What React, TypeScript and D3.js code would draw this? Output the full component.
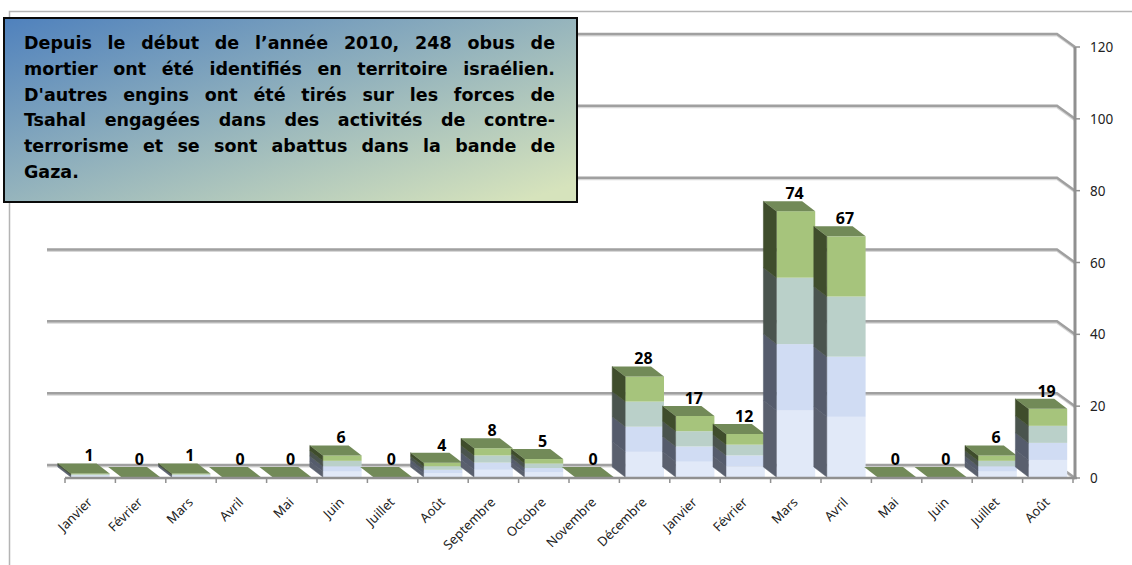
import * as d3 from 'd3';
import { useEffect, useRef } from 'react';

const months = ['Janvier', 'Février', 'Mars', 'Avril', 'Mai', 'Juin', 'Juillet', 'Août', 'Septembre', 'Octobre', 'Novembre', 'Décembre', 'Janvier', 'Février', 'Mars', 'Avril', 'Mai', 'Juin', 'Juillet', 'Août'];
const totals = [1, 0, 1, 0, 0, 6, 0, 4, 8, 5, 0, 28, 17, 12, 74, 67, 0, 0, 6, 19];
// stack segments, bottom to top
const paleSeries = [0.25, 0, 0.25, 0, 0, 1.5, 0, 1, 2, 1.25, 0, 7, 4.25, 3, 18.5, 16.75, 0, 0, 1.5, 4.75];
const blueSeries = [0.25, 0, 0.25, 0, 0, 1.5, 0, 1, 2, 1.25, 0, 7, 4.25, 3, 18.5, 16.75, 0, 0, 1.5, 4.75];
const sageSeries = [0.25, 0, 0.25, 0, 0, 1.5, 0, 1, 2, 1.25, 0, 7, 4.25, 3, 18.5, 16.75, 0, 0, 1.5, 4.75];
const greenSeries = [0.25, 0, 0.25, 0, 0, 1.5, 0, 1, 2, 1.25, 0, 7, 4.25, 3, 18.5, 16.75, 0, 0, 1.5, 4.75];
const yTicks = [0, 20, 40, 60, 80, 100, 120];
const noteLines = [
    'Depuis le début de l’année 2010, 248 obus de',
    'mortier ont été identifiés en territoire israélien.',
    "D'autres engins ont été tirés sur les forces de",
    'Tsahal engagées dans des activités de contre-',
    'terrorisme et se sont abattus dans la bande de',
    'Gaza.',
];

const App = () => {
    const ref = useRef<SVGSVGElement | null>(null);

    useEffect(() => {
        const svg = d3.select(ref.current);
        svg.selectAll('*').remove();

        const x = d3.scaleBand<number>()
            .domain(d3.range(months.length))
            .range([65, 1073])
            .paddingInner(0.23)
            .paddingOuter(0.115);
        const y = d3.scaleLinear().domain([0, 120]).range([478, 47]);
        const step = x.step();
        const left = (i: number) => x(i) as number;
        const tickX = (i: number) => left(i) - step * 0.115;

        const defs = svg.append('defs');
        const grad = defs.append('linearGradient')
            .attr('id', 'noteFill')
            .attr('x1', '0%').attr('y1', '0%')
            .attr('x2', '100%').attr('y2', '100%');
        grad.append('stop').attr('offset', '0%').attr('stop-color', '#4f81bd');
        grad.append('stop').attr('offset', '95%').attr('stop-color', '#d6e3bc');

        // outer frame
        svg.append('path')
            .attr('d', 'M9.5,565V11.5H1132')
            .attr('fill', 'none')
            .attr('stroke', '#b4b4b4')
            .attr('stroke-width', 1.5);

        // back grid lines with the bend down to the axis
        const gridPath = (v: number) => {
            const p = d3.path();
            p.moveTo(47, y(v) - 13);
            p.lineTo(1057, y(v) - 13);
            p.lineTo(1075, y(v));
            return p.toString();
        };
        svg.selectAll('.grid-shadow')
            .data(yTicks)
            .enter()
            .append('path')
            .attr('d', gridPath)
            .attr('transform', 'translate(0,1.5)')
            .attr('fill', 'none')
            .attr('stroke', '#d8d8d8')
            .attr('stroke-width', 2);
        svg.selectAll('.grid-line')
            .data(yTicks)
            .enter()
            .append('path')
            .attr('d', gridPath)
            .attr('fill', 'none')
            .attr('stroke', '#a0a0a0')
            .attr('stroke-width', 2.5);

        // bars
        const dx = 13;
        const dy = 10;
        const base = y(0) - 1;
        const stack = [
            { values: paleSeries, front: '#e1e9f8', side: '#5a606e' },
            { values: blueSeries, front: '#d0dcf3', side: '#555c6c' },
            { values: sageSeries, front: '#bad0c9', side: '#4a544e' },
            { values: greenSeries, front: '#a6c47c', side: '#3f4d2c' },
        ];
        const bars = svg.selectAll('.bar')
            .data(months.map((_, i) => i))
            .enter()
            .append('g');
        bars.each(function (i) {
            const g = d3.select(this);
            const x0 = left(i);
            const w = x.bandwidth();
            let sum = 0;
            stack.forEach((s) => {
                const v = s.values[i];
                const yb = base + y(sum) - y(0);
                const yt = base + y(sum + v) - y(0);
                sum += v;
                if (v === 0) return;
                g.append('rect')
                    .attr('x', x0).attr('y', yt)
                    .attr('width', w).attr('height', yb - yt)
                    .attr('fill', s.front);
                g.append('polygon')
                    .attr('points', [[x0 - dx, yb - dy], [x0, yb], [x0, yt], [x0 - dx, yt - dy]].join(' '))
                    .attr('fill', s.side)
                    .attr('stroke', s.side)
                    .attr('stroke-width', 0.5);
            });
            const top = base + y(sum) - y(0);
            g.append('polygon')
                .attr('points', [[x0 - dx, top - dy], [x0 + w - dx, top - dy], [x0 + w, top], [x0, top]].join(' '))
                .attr('fill', '#728a58');
        });

        // x axis
        svg.append('line')
            .attr('x1', 65).attr('x2', 1077)
            .attr('y1', y(0)).attr('y2', y(0))
            .attr('stroke', '#909090')
            .attr('stroke-width', 2.5);
        svg.selectAll('.x-tick')
            .data(d3.range(months.length + 1))
            .enter()
            .append('line')
            .attr('x1', (i) => tickX(0) + i * step)
            .attr('x2', (i) => tickX(0) + i * step)
            .attr('y1', y(0))
            .attr('y2', y(0) + 5)
            .attr('stroke', '#909090')
            .attr('stroke-width', 1.5);
        svg.selectAll('.x-label')
            .data(months)
            .enter()
            .append('text')
            .attr('transform', (_, i) => `translate(${tickX(i) + 28},503) rotate(-45)`)
            .attr('text-anchor', 'end')
            .style('font-family', '"Noto Sans", sans-serif')
            .style('font-size', '13px')
            .style('fill', '#222')
            .text((d) => d);

        // y axis
        svg.append('line')
            .attr('x1', 1075).attr('x2', 1075)
            .attr('y1', y(120)).attr('y2', y(0))
            .attr('stroke', '#909090')
            .attr('stroke-width', 3);
        svg.selectAll('.y-tick')
            .data(yTicks)
            .enter()
            .append('line')
            .attr('x1', 1075).attr('x2', 1080)
            .attr('y1', (d) => y(d)).attr('y2', (d) => y(d))
            .attr('stroke', '#909090')
            .attr('stroke-width', 1.5);
        svg.selectAll('.y-label')
            .data(yTicks)
            .enter()
            .append('text')
            .attr('x', 1090)
            .attr('y', (d) => y(d) + 5)
            .style('font-family', '"Noto Sans", sans-serif')
            .style('font-size', '13.5px')
            .style('fill', '#222')
            .text((d) => d);

        // totals above the bars
        svg.selectAll('.total')
            .data(totals)
            .enter()
            .append('text')
            .attr('x', (_, i) => tickX(i) + 24)
            .attr('y', (d) => base + y(d) - y(0) - dy - 2)
            .attr('text-anchor', 'middle')
            .style('font-family', '"Noto Sans", sans-serif')
            .style('font-weight', 'bold')
            .style('font-size', '16px')
            .style('fill', '#000')
            .text((d) => d);

        // note box
        svg.append('rect')
            .attr('x', 4).attr('y', 18)
            .attr('width', 573).attr('height', 184)
            .attr('fill', 'url(#noteFill)')
            .attr('stroke', '#0a0a0a')
            .attr('stroke-width', 2);
        const lines = svg.selectAll<SVGTextElement, string>('.note')
            .data(noteLines)
            .enter()
            .append('text')
            .attr('x', 24)
            .attr('y', (_, i) => 49 + i * 25.8)
            .style('font-family', '"DejaVu Sans", sans-serif')
            .style('font-weight', 'bold')
            .style('font-size', '17.5px')
            .style('fill', '#000')
            .text((d) => d);
        // justify every line but the last
        lines.each(function (d, i) {
            if (i === noteLines.length - 1) return;
            const gaps = d.split(' ').length - 1;
            const extra = (531 - this.getComputedTextLength()) / gaps;
            d3.select(this).style('word-spacing', `${extra}px`);
        });
    }, []);

    return <svg ref={ref} width={1132} height={565} style={{ position: 'absolute', left: 0, top: 0, background: '#fff' }} />;
};

export default App;
